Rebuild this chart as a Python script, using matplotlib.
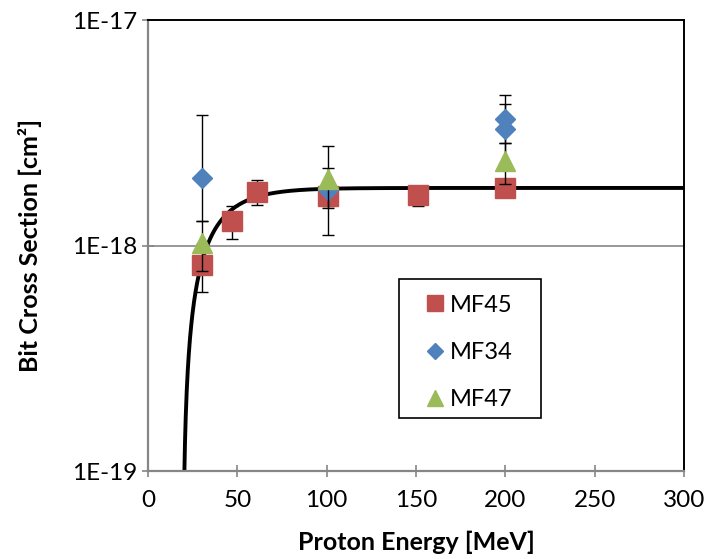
import numpy as np
import matplotlib
matplotlib.use("Agg")
import matplotlib.pyplot as plt
from matplotlib.lines import Line2D
from matplotlib.patches import Rectangle

plt.rcParams['font.family'] = ['Lato', 'DejaVu Sans']

# MF45 measurements (proton energy in MeV, cross section in cm^2)
mf45_energy = [30, 47, 61, 101, 151, 200]
mf45_sigma = [8.2e-19, 1.29e-18, 1.73e-18, 1.65e-18, 1.67e-18, 1.80e-18]
mf45_err_lo = [1.96e-19, 2.2e-19, 2.2e-19, 1.5e-19, 1.7e-19, 1.0e-19]
mf45_err_hi = [1.96e-19, 2.1e-19, 2.2e-19, 1.5e-19, 1.7e-19, 1.0e-19]

# MF34 measurements
mf34_energy = [30, 101, 200, 200]
mf34_sigma = [2.0e-18, 1.76e-18, 3.63e-18, 3.27e-18]
mf34_err_lo = [0.71e-18, 0.30e-18, 0.77e-18, 0.96e-18]
mf34_err_hi = [1.79e-18, 0.45e-18, 1.02e-18, 0.96e-18]

# MF47 measurements
mf47_energy = [30, 101, 200]
mf47_sigma = [1.03e-18, 1.97e-18, 2.37e-18]
mf47_err_lo = [0.26e-18, 0.86e-18, 0.49e-18]
mf47_err_hi = [0.26e-18, 0.79e-18, 0.49e-18]

# Weibull fit parameters
weibull_sat = 1.8e-18
weibull_onset = 19.4
weibull_width = 17.0
weibull_shape = 1.0

x_ticks = [0, 50, 100, 150, 200, 250, 300]
y_ticks = [1e-19, 1e-18, 1e-17]
y_tick_labels = ['1E-19', '1E-18', '1E-17']

RED = '#C0504D'
BLUE = '#4F81BD'
GREEN = '#9BBB59'
GRID = '#868686'

fig = plt.figure(figsize=(7.07, 5.59), dpi=100)
ax = fig.add_axes([0.2093, 0.1574, 0.9675 - 0.2093, 0.9642 - 0.1574])

# Weibull fit curve
e_fit = np.linspace(weibull_onset + 0.05, 300, 2000)
sigma_fit = weibull_sat * (1 - np.exp(-((e_fit - weibull_onset) / weibull_width) ** weibull_shape))
ax.plot(e_fit, sigma_fit, color='black', lw=2.8, zorder=2, solid_capstyle='butt')

err_kw = dict(ecolor='black', elinewidth=1.0, capsize=4.5, capthick=1.0, linestyle='none')

ax.errorbar(mf45_energy, mf45_sigma, yerr=[mf45_err_lo, mf45_err_hi],
            marker='s', ms=14, mfc=RED, mec=RED, zorder=3, **err_kw)
ax.errorbar(mf34_energy, mf34_sigma, yerr=[mf34_err_lo, mf34_err_hi],
            marker='D', ms=10, mfc=BLUE, mec=BLUE, zorder=4, **err_kw)
ax.errorbar(mf47_energy, mf47_sigma, yerr=[mf47_err_lo, mf47_err_hi],
            marker='^', ms=14, mfc=GREEN, mec=GREEN, zorder=5, **err_kw)

ax.set_yscale('log')
ax.set_xlim(0, 300)
ax.set_ylim(1e-19, 1e-17)
ax.set_xticks(x_ticks)
ax.set_xticklabels([str(t) for t in x_ticks])
ax.set_yticks(y_ticks)
ax.set_yticklabels(y_tick_labels)
ax.yaxis.set_minor_locator(matplotlib.ticker.NullLocator())

ax.axhline(1e-18, color=GRID, lw=1.2, zorder=1)

for side in ('left', 'bottom'):
    ax.spines[side].set_color(GRID)
    ax.spines[side].set_linewidth(1.6)
for side in ('top', 'right'):
    ax.spines[side].set_color('black')
    ax.spines[side].set_linewidth(1.4)

ax.tick_params(axis='both', which='major', direction='inout', length=8, width=1.2,
               color=GRID, labelsize=17.5)
ax.tick_params(axis='x', pad=10)
ax.tick_params(axis='y', pad=4)

ax.set_xlabel('Proton Energy [MeV]', fontsize=18, fontweight='bold', labelpad=14)
ax.set_ylabel('Bit Cross Section [cm²]', fontsize=18, fontweight='bold', labelpad=21)

# Legend frame drawn as its own box, entries placed inside it
fig.patches.append(Rectangle((399 / 707, 1 - 418 / 559), 142 / 707, 139 / 559,
                             transform=fig.transFigure, fill=False,
                             edgecolor='black', lw=1.2, zorder=6))
handles = [
    Line2D([], [], marker='s', ms=12, color=RED, linestyle='none', label='MF45'),
    Line2D([], [], marker='D', ms=8.5, color=BLUE, linestyle='none', label='MF34'),
    Line2D([], [], marker='^', ms=12, color=GREEN, linestyle='none', label='MF47'),
]
leg = fig.legend(handles=handles, loc='center', bbox_to_anchor=(469 / 707, 1 - 352.5 / 559),
                 frameon=False, fontsize=17, handletextpad=0.2,
                 handlelength=0.8, labelspacing=1.12, borderpad=0)

fig.savefig('out.png', dpi=100)
